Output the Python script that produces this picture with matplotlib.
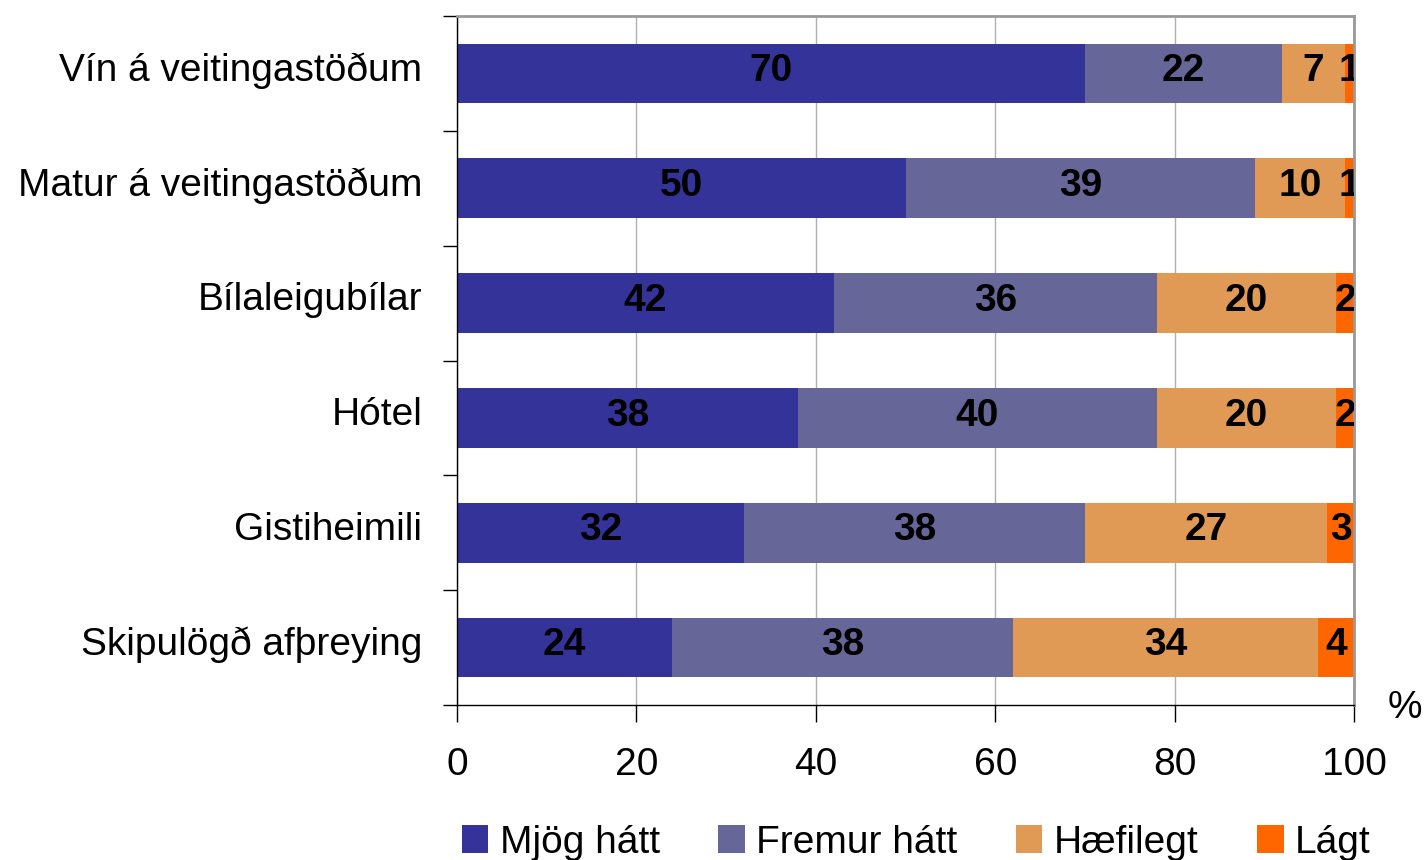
"""
Stacked horizontal bars - verdmat (Icelandic survey)
"""
import matplotlib
matplotlib.use("Agg")
import matplotlib.pyplot as plt
import matplotlib.transforms as mtransforms
import numpy as np

plt.rcParams['font.family'] = ['Liberation Sans', 'DejaVu Sans']

# data
categories = ['Vín á veitingastöðum', 'Matur á veitingastöðum', 'Bílaleigubílar',
              'Hótel', 'Gistiheimili', 'Skipulögð afþreying']
series_names = ['Mjög hátt', 'Fremur hátt', 'Hæfilegt', 'Lágt']
mjog_hatt = [70, 50, 42, 38, 32, 24]
fremur_hatt = [22, 39, 36, 40, 38, 38]
haefilegt = [7, 10, 20, 20, 27, 34]
lagt = [1, 1, 2, 2, 3, 4]
colors = ['#333399', '#666699', '#E09A55', '#FF6600']

series = [mjog_hatt, fremur_hatt, haefilegt, lagt]

fig = plt.figure(figsize=(14.25, 8.6), dpi=100)
ax = fig.add_axes([0.3207, 0.1802, 0.6295, 0.8012])

y = np.arange(len(categories))
left = np.zeros(len(categories))
for name, vals, col in zip(series_names, series, colors):
    vals = np.array(vals, dtype=float)
    ax.barh(y, vals, left=left, height=0.52, color=col, label=name, zorder=2)
    for yi, (l, v) in enumerate(zip(left, vals)):
        ax.text(l + v / 2, yi - 0.02, f'{int(v)}', ha='center', va='center',
                fontsize=28, fontweight='bold', color='black', zorder=3,
                clip_on=True)
    left += vals

ax.set_xlim(0, 100)
ax.set_ylim(len(categories) - 0.5, -0.5)

# gridlines
ax.set_xticks([0, 20, 40, 60, 80, 100])
ax.xaxis.grid(True, color='#b0b0b0', linewidth=1, zorder=0)
ax.set_axisbelow(True)
ax.tick_params(axis='x', direction='out', length=12, width=1, pad=18,
               labelsize=28, color='black')

# category labels + boundary ticks
ax.set_yticks(y)
ax.set_yticklabels(categories)
ax.set_yticks(np.arange(-0.5, len(categories), 1), minor=True)
ax.tick_params(axis='y', which='major', length=0, pad=25, labelsize=28)
ax.tick_params(axis='y', which='minor', length=10, width=1, color='black')
shift = mtransforms.ScaledTranslation(0, 5 / 72, fig.dpi_scale_trans)
for lab in ax.get_yticklabels():
    lab.set_transform(lab.get_transform() + shift)

for s in ['top', 'right']:
    ax.spines[s].set_color('#999999')
    ax.spines[s].set_linewidth(2)
for s in ['left', 'bottom']:
    ax.spines[s].set_color('black')
    ax.spines[s].set_linewidth(1)

fig.text(1405 / 1425, 1 - 708 / 860, '%', ha='center', va='center', fontsize=28)

fig.legend(loc='center', bbox_to_anchor=(0.643, 0.02), ncol=4, frameon=False,
           fontsize=28, handlelength=0.68, handleheight=0.75, handletextpad=0.3,
           columnspacing=1.5)

fig.savefig('out.png', dpi=100)
